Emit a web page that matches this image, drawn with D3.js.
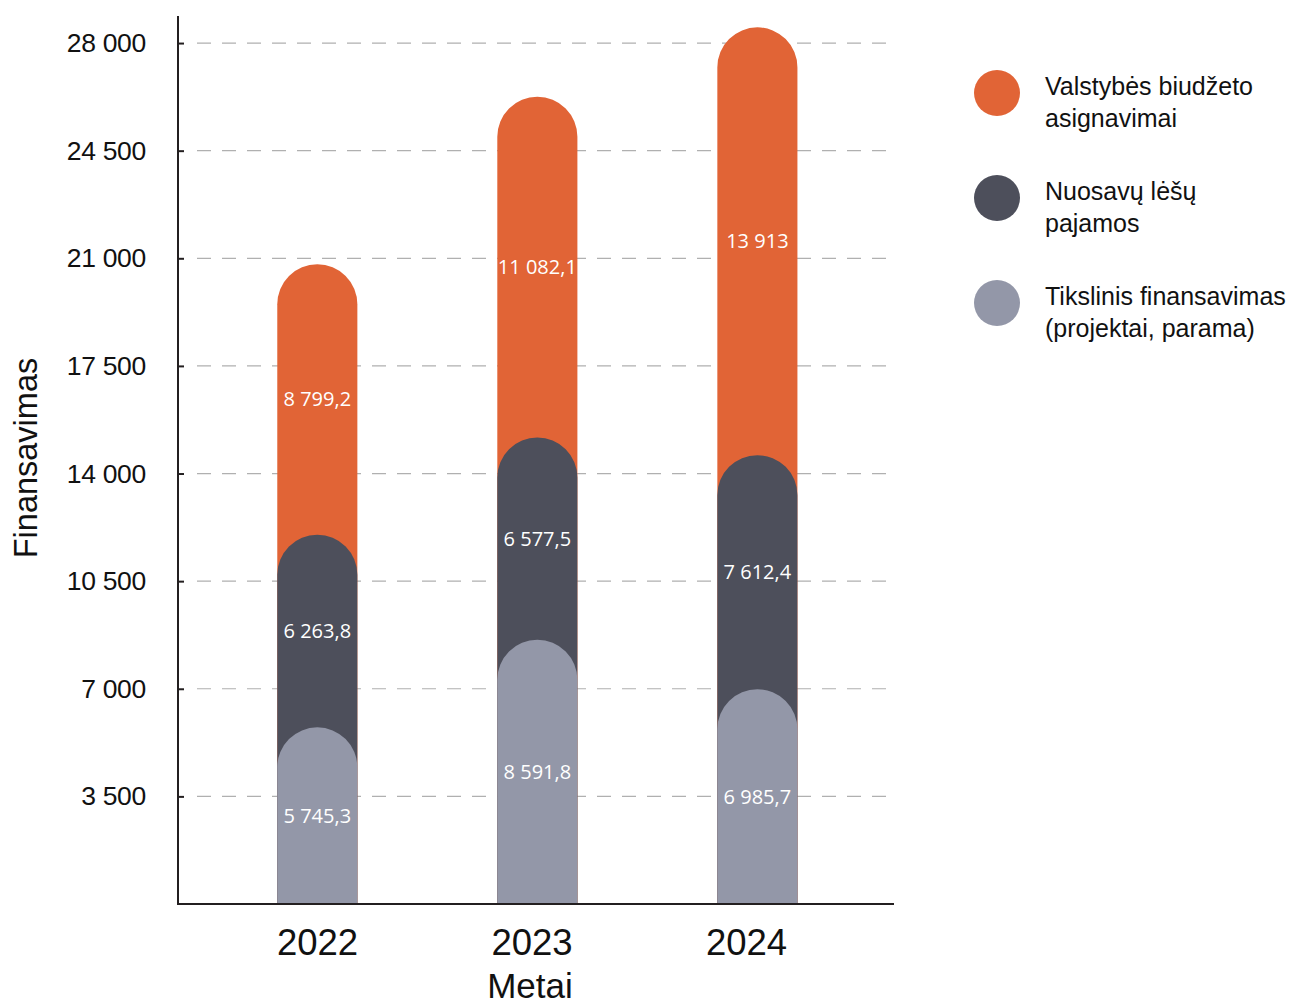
<!DOCTYPE html>
<html>
<head>
<meta charset="utf-8">
<script src="https://cdn.jsdelivr.net/npm/d3@7"></script>
<style>
  body { margin: 0; background: #fff; }
  svg { display: block; }
  .tick text { font-family: "Liberation Sans", Arial, sans-serif; fill: #111; }
</style>
</head>
<body>
<script>
// chart data
const years = ["2022", "2023", "2024"];
const seriesKeys = ["tikslinis", "nuosavos", "biudzetas"];
const seriesNames = [
  ["Valstybės biudžeto", "asignavimai"],
  ["Nuosavų lėšų", "pajamos"],
  ["Tikslinis finansavimas", "(projektai, parama)"]
];
const tikslinis = [5745.3, 8591.8, 6985.7];
const nuosavos = [6263.8, 6577.5, 7612.4];
const biudzetas = [8799.2, 11082.1, 13913];
const yTicks = [3500, 7000, 10500, 14000, 17500, 21000, 24500, 28000];

const colors = { tikslinis: "#9397a8", nuosavos: "#4d4f5b", biudzetas: "#e16436" };

const W = 1291, H = 1006;
const lt = d3.formatLocale({ decimal: ",", thousands: " ", grouping: [3], currency: ["", " €"] });
const fmtInt = lt.format(",d");
const fmtDec = lt.format(",.1f");
const fmtVal = v => (v % 1 === 0 ? fmtInt(v) : fmtDec(v));

const rows = years.map((yr, i) => ({
  year: yr,
  tikslinis: tikslinis[i],
  nuosavos: nuosavos[i],
  biudzetas: biudzetas[i]
}));
const stacked = d3.stack().keys(seriesKeys)(rows);

const svg = d3.select("body").append("svg")
  .attr("width", W)
  .attr("height", H);

const y = d3.scaleLinear().domain([0, 28880]).range([904, 16]);
const x = d3.scaleBand().domain(years)
  .range([207.3, 867.4])
  .paddingInner(0.636)
  .paddingOuter(0.318);
const xLab = d3.scalePoint().domain(years).range([317, 746]);

// dashed grid
svg.append("g")
  .selectAll("line")
  .data(yTicks)
  .join("line")
  .attr("x1", 197).attr("x2", 894)
  .attr("y1", d => y(d)).attr("y2", d => y(d))
  .attr("stroke", "#b0b0b0")
  .attr("stroke-width", 1.2)
  .attr("stroke-dasharray", "14 11");

// rounded-top segments, upper series drawn first so lower ones overlap them
const r = x.bandwidth() / 2;
function capPath(x0, w, yTop, yBot) {
  const rr = Math.min(r, (yBot - yTop));
  return "M" + x0 + "," + yBot +
    "L" + x0 + "," + (yTop + rr) +
    "A" + rr + "," + rr + " 0 0 1 " + (x0 + w) + "," + (yTop + rr) +
    "L" + (x0 + w) + "," + yBot + "Z";
}

const layers = stacked.slice().reverse();
svg.append("g")
  .selectAll("g")
  .data(layers)
  .join("g")
  .attr("fill", d => colors[d.key])
  .selectAll("path")
  .data(d => d)
  .join("path")
  .attr("d", d => capPath(x(d.data.year), x.bandwidth(), y(d[1]), y(0)));

// value labels
const labelG = svg.append("g")
  .attr("font-family", "'Open Sans', 'Noto Sans', sans-serif")
  .attr("font-size", 20)
  .attr("fill", "#fff")
  .attr("text-anchor", "middle");
stacked.forEach(s => {
  labelG.selectAll(null)
    .data(s)
    .join("text")
    .attr("x", d => x(d.data.year) + x.bandwidth() / 2)
    .attr("y", d => (y(d[0]) + y(d[1])) / 2)
    .attr("dy", "0.35em")
    .text(d => fmtVal(d[1] - d[0]));
});

// y axis
const yAxis = d3.axisLeft(y)
  .tickValues(yTicks)
  .tickFormat(fmtInt)
  .tickSize(-6)
  .tickPadding(32);
const gy = svg.append("g")
  .attr("transform", "translate(178,0)")
  .call(yAxis);
gy.select(".domain").remove();
gy.selectAll(".tick line").attr("stroke", "#231f20").attr("stroke-width", 2);
gy.selectAll(".tick text").attr("font-size", 26.5).attr("letter-spacing", -0.3);

// x axis labels
const xAxis = d3.axisBottom(xLab).tickSize(0).tickPadding(25);
const gx = svg.append("g")
  .attr("transform", "translate(0,904)")
  .call(xAxis);
gx.select(".domain").remove();
gx.selectAll(".tick text").attr("font-size", 36.5);

// axis lines
svg.append("line")
  .attr("x1", 178).attr("x2", 178)
  .attr("y1", 16).attr("y2", 905)
  .attr("stroke", "#231f20").attr("stroke-width", 2);
svg.append("line")
  .attr("x1", 177).attr("x2", 894)
  .attr("y1", 904).attr("y2", 904)
  .attr("stroke", "#231f20").attr("stroke-width", 2);

// axis titles
svg.append("text")
  .attr("transform", "translate(37,458) rotate(-90)")
  .attr("text-anchor", "middle")
  .attr("font-family", "'Liberation Sans', Arial, sans-serif")
  .attr("font-size", 32.5)
  .attr("fill", "#111")
  .text("Finansavimas");
svg.append("text")
  .attr("x", 530).attr("y", 998)
  .attr("text-anchor", "middle")
  .attr("font-family", "'Liberation Sans', Arial, sans-serif")
  .attr("font-size", 35)
  .attr("fill", "#111")
  .text("Metai");

// legend
const legendKeys = ["biudzetas", "nuosavos", "tikslinis"];
const legY = d3.scalePoint().domain(legendKeys).range([93, 303]);
const leg = svg.append("g")
  .selectAll("g")
  .data(legendKeys)
  .join("g")
  .attr("transform", d => "translate(997," + legY(d) + ")");
leg.append("circle")
  .attr("r", 23)
  .attr("fill", d => colors[d]);
leg.append("text")
  .attr("font-family", "'Liberation Sans', Arial, sans-serif")
  .attr("font-size", 25)
  .attr("fill", "#111")
  .selectAll("tspan")
  .data((d, i) => seriesNames[i])
  .join("tspan")
  .attr("x", 48)
  .attr("y", (d, i) => 2 + i * 32)
  .text(d => d);
</script>
</body>
</html>
